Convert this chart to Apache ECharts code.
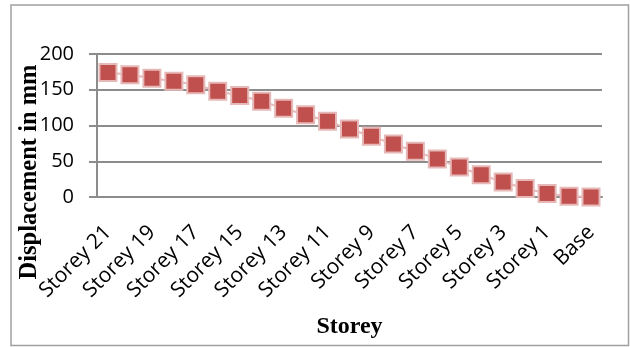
<!DOCTYPE html>
<html>
<head>
<meta charset="utf-8">
<script src="https://cdn.jsdelivr.net/npm/echarts@6/dist/echarts.min.js"></script>
<style>html,body{margin:0;padding:0;background:#fff}#c{width:630px;height:347px}</style>
</head>
<body>
<div id="c"></div>
<script>
const categories = ['Storey 21','Storey 20','Storey 19','Storey 18','Storey 17','Storey 16','Storey 15','Storey 14','Storey 13','Storey 12','Storey 11','Storey 10','Storey 9','Storey 8','Storey 7','Storey 6','Storey 5','Storey 4','Storey 3','Storey 2','Storey 1','Plinth','Base'];
const displacement = [174,171,166,162,157,148,142,134,124,115,106,95,85,74,64,53,42,31,21,12,5,1,0];
const yTicks = {min: 0, max: 200, interval: 50};
const xTitle = 'Storey';
const yTitle = 'Displacement in mm';

const chart = echarts.init(document.getElementById('c'), null, {renderer: 'canvas'});
chart.setOption({
  animation: false,
  backgroundColor: '#fff',
  grid: {left: 97, right: 28, top: 54, bottom: 150, containLabel: false},
  xAxis: {
    type: 'category',
    data: categories,
    boundaryGap: true,
    name: xTitle,
    nameLocation: 'middle',
    nameGap: 118,
    nameTextStyle: {fontFamily: 'Liberation Serif', fontWeight: 'bold', fontSize: 24, color: '#000'},
    axisLine: {show: true, lineStyle: {color: '#8c8c8c', width: 2}},
    axisTick: {show: false},
    axisLabel: {interval: 1, rotate: 45, fontFamily: 'Open Sans', fontSize: 21, color: '#000', margin: 32}
  },
  yAxis: {
    type: 'value',
    min: yTicks.min, max: yTicks.max, interval: yTicks.interval,
    axisLine: {show: true, lineStyle: {color: '#8c8c8c', width: 2}},
    axisTick: {show: true, length: 8, lineStyle: {color: '#8c8c8c', width: 2}},
    axisLabel: {fontFamily: 'Open Sans', fontSize: 20, color: '#000', margin: 23},
    splitLine: {show: true, lineStyle: {color: '#8c8c8c', width: 2}}
  },
  graphic: [
    {type: 'rect', shape: {x: 11, y: 5, width: 617.5, height: 340.5}, style: {fill: 'none', stroke: '#a0a0a0', lineWidth: 1.5}, z: -10, silent: true},
    {type: 'text', x: 30, y: 172, rotation: Math.PI / 2, z: 100,
     style: {text: yTitle, fontFamily: 'Liberation Serif', fontWeight: 'bold', fontSize: 24.5, fill: '#000', textAlign: 'center', textVerticalAlign: 'middle'}}
  ],
  series: [{
    type: 'line',
    data: displacement,
    symbol: 'rect',
    symbolSize: 17,
    showAllSymbol: true,
    lineStyle: {color: '#e6b9b8', width: 2},
    itemStyle: {color: '#c0504d', borderColor: '#e6b9b8', borderWidth: 2}
  }]
});
</script>
</body>
</html>
